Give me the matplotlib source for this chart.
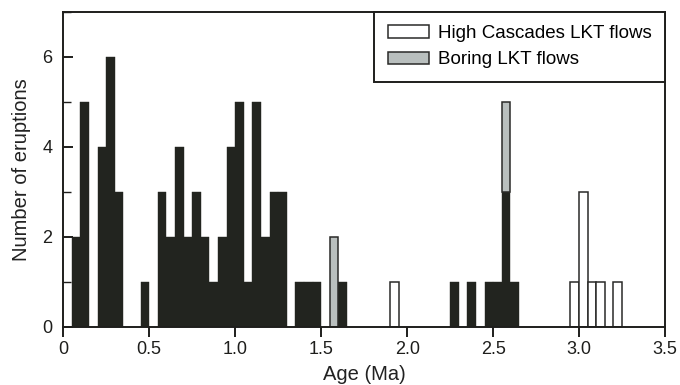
import matplotlib
matplotlib.use('Agg')
import matplotlib.pyplot as plt
from matplotlib.ticker import MultipleLocator

plt.rcParams['font.family'] = ['Liberation Sans', 'DejaVu Sans']

# bin width of the histogram (Ma)
binw = 0.05

# left edge of each bin and number of eruptions (dark bars, no legend entry)
dark_age = [0.05, 0.10, 0.20, 0.25, 0.30, 0.45, 0.55, 0.60, 0.65, 0.70,
            0.75, 0.80, 0.85, 0.90, 0.95, 1.00, 1.05, 1.10, 1.15, 1.20,
            1.25, 1.35, 1.40, 1.45, 1.60, 2.25, 2.35, 2.45, 2.50, 2.55,
            2.60]
dark_n = [2, 5, 4, 6, 3, 1, 3, 2, 4, 2,
          3, 2, 1, 2, 4, 5, 1, 5, 2, 3,
          3, 1, 1, 1, 1, 1, 1, 1, 1, 3,
          1]

# Boring LKT flows (grey, stacked on the dark bars)
boring_age = [1.55, 2.55]
boring_n = [2, 2]

# High Cascades LKT flows (white)
hc_age = [1.90, 2.95, 3.00, 3.05, 3.10, 3.20]
hc_n = [1, 1, 3, 1, 1, 1]

xticks = [0, 0.5, 1.0, 1.5, 2.0, 2.5, 3.0, 3.5]
xlabels = ['0', '0.5', '1.0', '1.5', '2.0', '2.5', '3.0', '3.5']

dark_col = '#22241f'
grey_col = '#b9bfbe'
edge_col = '#2a2a28'

fig = plt.figure(figsize=(6.8, 3.85), dpi=100)
ax = fig.add_axes([0.093, 0.151, 0.885, 0.818])

ax.bar(dark_age, dark_n, width=binw, align='edge', color=dark_col,
       edgecolor=dark_col, linewidth=0.3)

# grey bars sit on top of the dark count in the same bin
lookup = dict(zip(dark_age, dark_n))
bottoms = [lookup.get(a, 0) for a in boring_age]
ax.bar(boring_age, boring_n, width=binw, bottom=bottoms, align='edge',
       color=grey_col, edgecolor=edge_col, linewidth=1.1,
       label='Boring LKT flows')

ax.bar(hc_age, hc_n, width=binw, align='edge', color='white',
       edgecolor=edge_col, linewidth=1.1, label='High Cascades LKT flows')

ax.set_xlim(0, 3.5)
ax.set_ylim(0, 7)
ax.set_xticks(xticks)
ax.set_xticklabels(xlabels)
ax.set_yticks([0, 2, 4, 6])
ax.yaxis.set_minor_locator(MultipleLocator(1))

for s in ax.spines.values():
    s.set_linewidth(1.4)
    s.set_color('#1e1e1c')

ax.tick_params(axis='x', direction='out', length=7, width=1.4,
               labelsize=13, pad=3.5, colors='#1e1e1c')
ax.tick_params(axis='y', which='major', direction='in', length=7, width=1.4,
               labelsize=13, pad=8, colors='#1e1e1c')
ax.tick_params(axis='y', which='minor', direction='in', length=6, width=1.0,
               colors='#1e1e1c')

ax.set_xlabel('Age (Ma)', fontsize=14.5, labelpad=5, color='#222222')
ax.set_ylabel('Number of eruptions', fontsize=14.5, labelpad=8,
              color='#222222')

h, l = ax.get_legend_handles_labels()
leg = ax.legend(h[::-1], l[::-1], loc='upper right', fontsize=13.5,
                frameon=True, fancybox=False, borderaxespad=0,
                handlelength=2.2, handleheight=0.65, handletextpad=0.5,
                borderpad=0.7, labelspacing=0.5)
leg.get_frame().set_edgecolor('#1e1e1c')
leg.get_frame().set_linewidth(1.4)
leg.get_frame().set_alpha(1)

fig.savefig('out.png', dpi=100)
